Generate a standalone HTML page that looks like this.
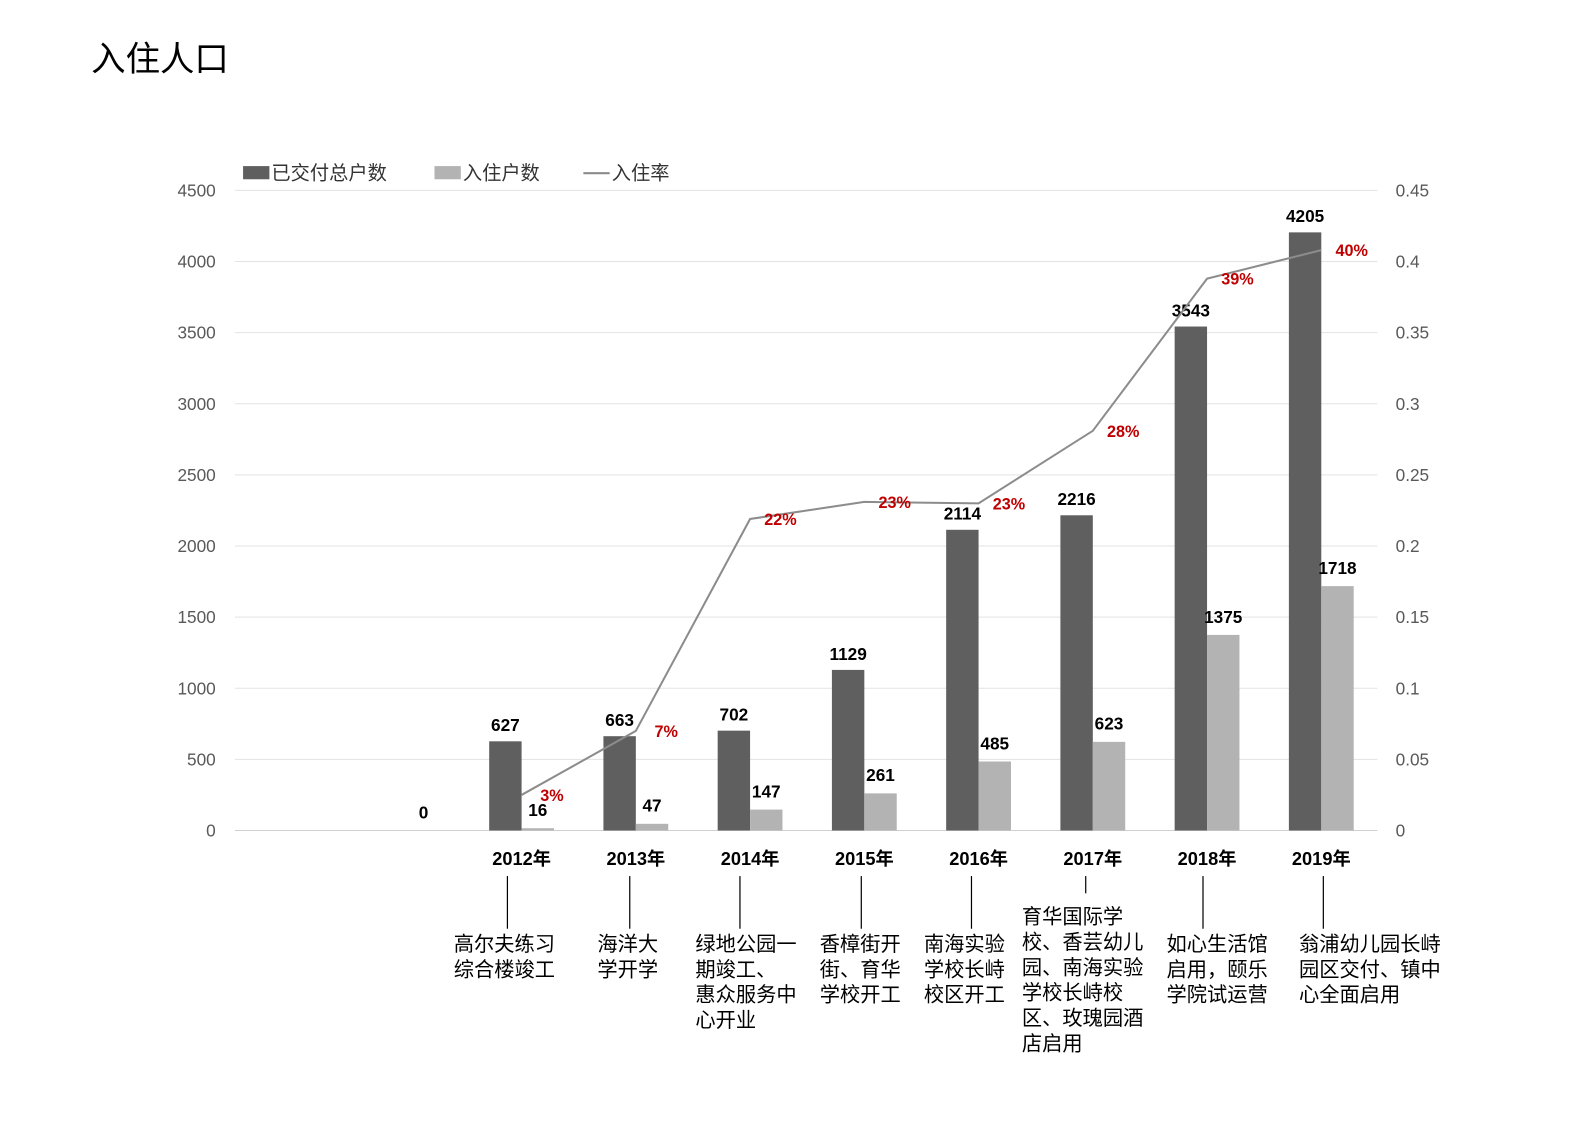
<!DOCTYPE html>
<html><head><meta charset="utf-8"><style>
body{margin:0;background:#fff;}
svg text{font-family:"Liberation Sans","Noto Sans CJK SC",sans-serif;}
</style></head><body>
<svg id="c" width="1588" height="1123" xmlns="http://www.w3.org/2000/svg">
<g transform="scale(1.0128)">
<text x="90" y="70" font-size="34" fill="#000">入住人口</text>
<g>
<rect x="240" y="164" width="26" height="13" fill="#5f5f5f"/>
<text x="268" y="177" font-size="19" fill="#333">已交付总户数</text>
<rect x="429" y="164" width="26" height="13" fill="#b3b3b3"/>
<text x="457" y="177" font-size="19" fill="#333">入住户数</text>
<line x1="576" y1="171" x2="602" y2="171" stroke="#8c8c8c" stroke-width="2"/>
<text x="604" y="177" font-size="19" fill="#333">入住率</text>
</g>
<g id="plot"></g>
</g>
</svg>
<script>
const categories=["","","2012年","2013年","2014年","2015年","2016年","2017年","2018年","2019年"];
const totals=[null,null,627,663,702,1129,2114,2216,3543,4205];
const occupied=[null,0,16,47,147,261,485,623,1375,1718];
const rates=[null,null,0.025,0.07,0.219,0.231,0.23,0.281,0.388,0.408];
const rateLabels=["","","3%","7%","22%","23%","23%","28%","39%","40%"];
const leftTicks=["0","500","1000","1500","2000","2500","3000","3500","4000","4500"];
const rightTicks=["0","0.05","0.1","0.15","0.2","0.25","0.3","0.35","0.4","0.45"];
const events=[null,null,["高尔夫练习","综合楼竣工"],["海洋大","学开学"],["绿地公园一","期竣工、","惠众服务中","心开业"],["香樟街开","街、育华","学校开工"],["南海实验","学校长峙","校区开工"],["育华国际学","校、香芸幼儿","园、南海实验","学校长峙校","区、玫瑰园酒","店启用"],["如心生活馆","启用，颐乐","学院试运营"],["翁浦幼儿园长峙","园区交付、镇中","心全面启用"]];
// layout-only offsets (pixels) for annotation text and connectors
const textOff=[0,0,-67,-38,-54,-44,-54,-70,-40,-22];
const lineOff=[0,0,-14,-6,-10,-3,-7,-7,-4,2];
const NS="http://www.w3.org/2000/svg";
const g=document.getElementById('plot');
const X0=232,X1=1360,Y0=820,Y1=188;
const band=(X1-X0)/categories.length;
const xc=i=>X0+band*(i+0.5)+1;
const yL=v=>Y0-(v/4500)*(Y0-Y1);
const yR=v=>Y0-(v/0.45)*(Y0-Y1);
function mk(t,a,txt){const e=document.createElementNS(NS,t);for(const k in a)e.setAttribute(k,a[k]);if(txt!=null)e.textContent=txt;g.appendChild(e);return e;}
leftTicks.forEach((t,i)=>{const v=+t;const y=yL(v);
const l=mk('line',{x1:X0,x2:X1,y1:y,y2:y,stroke:i==0?'#d0d0d0':'#e3e3e3','stroke-width':1});


const a=mk('text',{x:213,y:y+6,'font-size':17,fill:'#595959','text-anchor':'end'},t);

});
rightTicks.forEach((t)=>{const y=yR(+t);
const a=mk('text',{x:1378,y:y+6,'font-size':17,fill:'#595959'},t);

});
const BW=32;
categories.forEach((c,i)=>{const cx=xc(i);
if(totals[i]!=null){const y=yL(totals[i]);
const r=mk('rect',{x:cx-BW,y:y,width:BW,height:Y0-y,fill:'#5f5f5f'});


const t=mk('text',{x:cx-BW/2,y:y-10,'font-size':17,'font-weight':'bold','text-anchor':'middle',fill:'#000'},String(totals[i]));

}
if(occupied[i]!=null){const y=yL(occupied[i]);
const r=mk('rect',{x:cx,y:y,width:BW,height:Y0-y,fill:'#b3b3b3'});


const t=mk('text',{x:cx+BW/2,y:y-12,'font-size':17,'font-weight':'bold','text-anchor':'middle',fill:'#000'},String(occupied[i]));

}
if(c){const t=mk('text',{x:cx,y:854,'font-size':18,'font-weight':'bold','text-anchor':'middle',fill:'#000'},c);

}
if(events[i]){const ev=events[i];const long=ev.length>5;
const lx=cx+lineOff[i];
const l=mk('line',{x1:lx,x2:lx,y1:865,y2:long?882:917,stroke:'#000','stroke-width':1.2});


const startY=long?912:939;
const tx=cx+textOff[i];
ev.forEach((s,k)=>{const t=mk('text',{x:tx,y:startY+k*25,'font-size':20,fill:'#000'},s);

});}
});
let d='';rates.forEach((r,i)=>{if(r==null)return;d+=(d?'L':'M')+xc(i)+' '+yR(r);});
const p=mk('path',{d:d,fill:'none',stroke:'#8c8c8c','stroke-width':2});


rates.forEach((r,i)=>{if(r==null)return;
const t=mk('text',{x:xc(i)+30,y:yR(r)+6,'font-size':16,'font-weight':'bold','text-anchor':'middle',fill:'#c00000'},rateLabels[i]);

});
</script>
</body></html>
